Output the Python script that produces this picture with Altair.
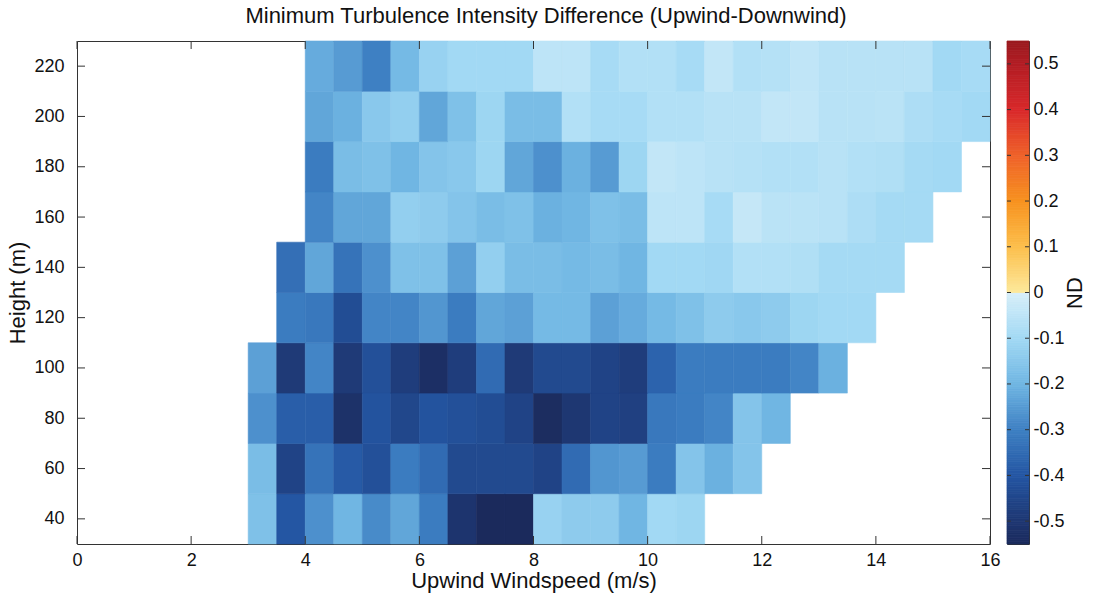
import altair as alt
import pandas as pd
import numpy as np

# ---------------- data ----------------
heights = [40, 60, 80, 100, 120, 140, 160, 180, 200, 220]
row_start = [3.0, 3.0, 3.0, 3.0, 3.5, 3.5, 4.0, 4.0, 4.0, 4.0]
bin_width = 0.5

vals_40 = [-0.17, -0.40, -0.27, -0.20, -0.28, -0.23, -0.31, -0.51, -0.55, -0.55,
           -0.12, -0.14, -0.14, -0.20, -0.10, -0.11]
vals_60 = [-0.18, -0.46, -0.33, -0.39, -0.42, -0.31, -0.35, -0.44, -0.44, -0.44,
           -0.46, -0.35, -0.26, -0.25, -0.31, -0.16, -0.21, -0.16]
vals_80 = [-0.27, -0.38, -0.38, -0.52, -0.41, -0.45, -0.41, -0.42, -0.43, -0.46,
           -0.54, -0.50, -0.46, -0.47, -0.32, -0.31, -0.29, -0.16, -0.20]
vals_100 = [-0.24, -0.49, -0.29, -0.49, -0.42, -0.48, -0.53, -0.48, -0.35, -0.49,
            -0.44, -0.44, -0.46, -0.48, -0.37, -0.31, -0.31, -0.31, -0.31, -0.29, -0.21]
vals_120 = [-0.31, -0.32, -0.43, -0.29, -0.29, -0.26, -0.31, -0.23, -0.24, -0.19,
            -0.19, -0.24, -0.22, -0.19, -0.17, -0.14, -0.15, -0.14, -0.11, -0.10, -0.10]
vals_140 = [-0.34, -0.23, -0.33, -0.27, -0.17, -0.17, -0.24, -0.13, -0.18, -0.18,
            -0.19, -0.18, -0.20, -0.10, -0.10, -0.105, -0.07, -0.07, -0.075, -0.095,
            -0.095, -0.095]
vals_160 = [-0.29, -0.23, -0.23, -0.13, -0.14, -0.16, -0.18, -0.17, -0.21, -0.20,
            -0.17, -0.18, -0.05, -0.05, -0.09, -0.035, -0.055, -0.055, -0.06, -0.08,
            -0.095, -0.095]
vals_180 = [-0.31, -0.18, -0.17, -0.20, -0.16, -0.15, -0.11, -0.23, -0.27, -0.21,
            -0.25, -0.11, -0.04, -0.05, -0.06, -0.065, -0.07, -0.07, -0.06, -0.07,
            -0.075, -0.095, -0.10]
vals_200 = [-0.23, -0.21, -0.15, -0.13, -0.23, -0.17, -0.11, -0.18, -0.18, -0.07,
            -0.09, -0.09, -0.07, -0.07, -0.06, -0.06, -0.04, -0.04, -0.06, -0.06,
            -0.055, -0.08, -0.09, -0.10]
vals_220 = [-0.22, -0.25, -0.30, -0.19, -0.12, -0.10, -0.10, -0.10, -0.05, -0.05,
            -0.09, -0.07, -0.07, -0.09, -0.04, -0.07, -0.065, -0.045, -0.06, -0.06,
            -0.06, -0.06, -0.10, -0.09]

rows = [vals_40, vals_60, vals_80, vals_100, vals_120,
        vals_140, vals_160, vals_180, vals_200, vals_220]

x_ticks = [0, 2, 4, 6, 8, 10, 12, 14, 16]
y_ticks = [40, 60, 80, 100, 120, 140, 160, 180, 200, 220]
cb_ticks = [-0.5, -0.4, -0.3, -0.2, -0.1, 0, 0.1, 0.2, 0.3, 0.4, 0.5]

# colour map
cmap_domain = [-0.55, -0.5, -0.4, -0.3, -0.2, -0.1, 0.0, 0.0001,
               0.1, 0.2, 0.3, 0.4, 0.5, 0.55]
cmap_range = ["#1b2a5c", "#1e3772", "#2456a3", "#3e80c3", "#70b6e3", "#a2d9f4",
              "#d8eff9", "#fde99c", "#fcbf4c", "#f7921f", "#ef622a", "#d9292b",
              "#b21d24", "#9a1a1f"]

# ---------------- build tables ----------------
recs = []
for h, x0, vals in zip(heights, row_start, rows):
    for i, v in enumerate(vals):
        xs = x0 + i * bin_width
        recs.append({"x": xs, "x2": xs + bin_width, "y": h - 10, "y2": h + 10, "v": v})
cells = pd.DataFrame(recs)

steps = np.round(np.arange(-0.55, 0.55, 0.005), 4)
cbar = pd.DataFrame({"v": steps, "v2": np.round(steps + 0.005, 4),
                     "c": np.round(steps + 0.0025, 5)})

FONT = "Liberation Sans, Arial, sans-serif"
TXT = "#111111"
W, H = 913, 503
CBW = 22

xscale = alt.Scale(domain=[0, 16], nice=False, zero=False)
yscale = alt.Scale(domain=[30, 230], nice=False, zero=False)
cscale = alt.Scale(domain=cmap_domain, range=cmap_range, interpolate="rgb")
cbscale = alt.Scale(domain=[-0.55, 0.55], nice=False, zero=False)

xaxis = alt.Axis(values=x_ticks, title="Upwind Windspeed (m/s)",
                 labelPadding=7, titlePadding=1)
yaxis = alt.Axis(values=y_ticks, title="Height (m)",
                 labelPadding=13, titlePadding=4)
cbaxis = alt.Axis(orient="right", values=cb_ticks, title="ND",
                  titleAngle=270, labelPadding=4, titlePadding=22,
                  labelExpr="datum.value < 0 ? '-' + format(-datum.value, '~g') : format(datum.value, '~g')")

heat = alt.Chart(cells).mark_rect(strokeWidth=0.6).encode(
    x=alt.X("x:Q", scale=xscale, axis=xaxis),
    x2="x2:Q",
    y=alt.Y("y:Q", scale=yscale, axis=yaxis),
    y2="y2:Q",
    color=alt.Color("v:Q", scale=cscale, legend=None),
    stroke=alt.Stroke("v:Q", scale=cscale, legend=None),
)

xt = pd.DataFrame({"x": x_ticks})
yt = pd.DataFrame({"y": y_ticks})
tick_col = "#333333"
xb = alt.Chart(xt).mark_rule(color=tick_col, strokeWidth=1).encode(
    x=alt.X("x:Q", scale=xscale, axis=xaxis), y=alt.value(H), y2=alt.value(H - 8))
xtop = alt.Chart(xt).mark_rule(color=tick_col, strokeWidth=1).encode(
    x=alt.X("x:Q", scale=xscale, axis=xaxis), y=alt.value(0), y2=alt.value(8))
yl = alt.Chart(yt).mark_rule(color=tick_col, strokeWidth=1).encode(
    y=alt.Y("y:Q", scale=yscale, axis=yaxis), x=alt.value(0), x2=alt.value(8))
yr = alt.Chart(yt).mark_rule(color=tick_col, strokeWidth=1).encode(
    y=alt.Y("y:Q", scale=yscale, axis=yaxis), x=alt.value(W), x2=alt.value(W - 8))

main = alt.layer(heat, xb, xtop, yl, yr).properties(width=W, height=H)

cb = alt.Chart(cbar).mark_rect(strokeWidth=0.8).encode(
    y=alt.Y("v:Q", scale=cbscale, axis=cbaxis),
    y2="v2:Q",
    x=alt.value(0), x2=alt.value(CBW),
    color=alt.Color("c:Q", scale=cscale, legend=None),
    stroke=alt.Stroke("c:Q", scale=cscale, legend=None),
)
cbt = pd.DataFrame({"v": cb_ticks})
cbl = alt.Chart(cbt).mark_rule(color=tick_col, strokeWidth=1).encode(
    y=alt.Y("v:Q", scale=cbscale, axis=cbaxis), x=alt.value(0), x2=alt.value(4))
cbr = alt.Chart(cbt).mark_rule(color=tick_col, strokeWidth=1).encode(
    y=alt.Y("v:Q", scale=cbscale, axis=cbaxis), x=alt.value(CBW), x2=alt.value(CBW - 4))
colorbar = alt.layer(cb, cbl, cbr).properties(width=CBW, height=H)

chart = alt.hconcat(main, colorbar, spacing=5).properties(
    title=alt.TitleParams("Minimum Turbulence Intensity Difference (Upwind-Downwind)",
                          anchor="middle", fontSize=22, fontWeight="normal",
                          font=FONT, color=TXT, offset=12),
    padding={"left": 6, "top": 5, "right": 2, "bottom": 4},
    background="white",
).configure_view(stroke="#333333", strokeWidth=1).configure_axis(
    labelFont=FONT, labelFontSize=18, labelColor=TXT,
    titleFont=FONT, titleFontSize=22, titleFontWeight="normal", titleColor=TXT,
    ticks=False, domain=False, grid=False, labelFlush=False,
)

chart.save("out.html", embed_options={"renderer": "svg", "actions": False})
